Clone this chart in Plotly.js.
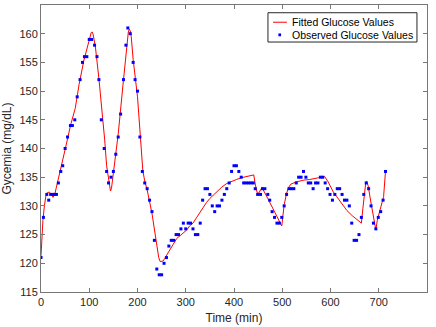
<!DOCTYPE html>
<html>
<head>
<meta charset="utf-8">
<script src="https://cdn.plot.ly/plotly-3.0.1.min.js"></script>
<style>
  html, body { margin: 0; padding: 0; background: #fff; }
  #graph { width: 436px; height: 327px; }
</style>
</head>
<body>
<div id="graph"></div>
<script>
// observed glucose readings (time in min, value in mg/dL)
const obsTime = [0, 5, 12, 16, 20, 24, 28, 32, 36, 41, 45, 50, 55, 61, 65, 70, 75, 81, 86, 90,
  95, 100, 105, 111, 116, 120, 125, 131, 136, 140, 145, 150, 155, 160, 165, 171, 176, 180, 185, 191,
  195, 200, 205, 210, 215, 220, 225, 230, 235, 240, 245, 250, 255, 260, 265, 270, 275, 280, 285, 290,
  295, 300, 305, 310, 315, 320, 325, 330, 335, 340, 345, 350, 355, 360, 365, 370, 375, 380, 385, 390,
  395, 400, 405, 410, 415, 420, 425, 430, 435, 440, 444, 449, 455, 459, 464, 470, 474, 479, 484, 489,
  494, 499, 504, 509, 514, 519, 524, 529, 534, 539, 544, 549, 554, 559, 564, 569, 574, 579, 584, 589,
  594, 599, 604, 609, 614, 619, 624, 629, 634, 639, 644, 649, 654, 659, 664, 669, 674, 679, 684, 689,
  694, 699, 704, 709, 714];
const obsValue = [121, 128, 132, 131, 132, 132, 132, 132, 134, 136, 137, 140, 142, 144, 144, 145, 149, 152, 155, 156,
  156, 159, 159, 158, 156, 152, 145, 140, 136, 134, 135, 136, 139, 142, 146, 152, 158, 161, 160, 155,
  152, 150, 142, 136, 134, 133, 131, 129, 124, 119, 118, 118, 120, 121, 123, 124, 124, 125, 125, 126,
  127, 126, 127, 127, 126, 125, 125, 127, 131, 133, 133, 132, 130, 129, 130, 130, 131, 132, 133, 134,
  136, 137, 137, 136, 135, 134, 134, 134, 134, 134, 133, 132, 132, 133, 133, 132, 131, 129, 128, 127,
  127, 128, 130, 132, 133, 133, 133, 134, 135, 135, 136, 135, 134, 134, 133, 134, 134, 135, 135, 134,
  133, 132, 131, 132, 133, 133, 132, 131, 131, 130, 127, 124, 124, 125, 128, 132, 134, 133, 130, 127,
  126, 128, 129, 131, 136];

// fitted model curve
const fitTime = [0, 2, 4, 7, 10, 13, 17, 20, 25, 29, 34, 41, 51, 62, 71, 79, 89, 100, 104, 106,
  108, 110, 113, 120, 127, 132, 136, 140, 144, 146, 150, 155, 160, 171, 178, 181, 183, 185, 187, 191,
  200, 205, 211, 215, 220, 230, 239, 244, 247, 253, 256, 260, 267, 274, 281, 288, 295, 302, 308, 315,
  322, 329, 336, 343, 350, 357, 364, 375, 385, 395, 405, 415, 426, 441, 444, 448, 451, 454, 458, 470,
  480, 490, 499, 501, 504, 509, 513, 518, 530, 545, 557, 575, 588, 595, 601, 606, 613, 623, 634, 645,
  655, 664, 667, 670, 673, 675, 678, 684, 689, 694, 697, 700, 705, 710, 714];
const fitValue = [121.3, 125, 127.5, 130, 131.7, 132.3, 132.4, 132.2, 131.5, 132.2, 133.9, 136.5, 140.2, 144.3, 147, 151.2, 155.4, 158.9, 160.2, 160.3,
  159.9, 159, 157.5, 152.2, 146.5, 141.5, 137, 134.3, 132.6, 133, 135.5, 139, 142.5, 152, 158.5, 160.3, 160.8, 160.5, 159.5, 155.5,
  149, 142.5, 136.2, 134.3, 132.8, 128.7, 124.1, 121, 120.3, 120.4, 120.8, 121.4, 122.5, 123.3, 124.3, 124.8, 125.4, 125.8, 126.5, 127,
  127.9, 128.8, 129.8, 130.6, 131.3, 131.9, 132.5, 133.3, 133.9, 134.3, 134.6, 134.9, 135.1, 135.4, 133.8, 132.3, 132.2, 132.7, 133.2, 131.3,
  129.6, 128, 126.5, 128, 130.2, 132.2, 133.2, 133.8, 134.2, 134.5, 134.6, 134.9, 135.1, 134.2, 133.1, 132.4, 131.6, 130.4, 129.2, 128.3,
  127.6, 127, 129.5, 132, 134, 134.3, 133.5, 130.5, 127.8, 125.8, 127.5, 128.5, 129.8, 131.6, 136];

const legendNames = ['Fitted Glucose Values', 'Observed Glucose Values'];

const fontFamily = 'Liberation Sans, Arial, sans-serif';
const axisFont = { family: fontFamily, size: 11, color: '#262626' };

const traces = [
  {
    x: fitTime,
    y: fitValue,
    mode: 'lines',
    type: 'scatter',
    name: legendNames[0],
    line: { color: '#ff0000', width: 1 }
  },
  {
    x: obsTime,
    y: obsValue,
    mode: 'markers',
    type: 'scatter',
    name: legendNames[1],
    marker: { color: '#0000ff', size: 3, symbol: 'square' }
  }
];

// MATLAB-style compact legend box (paper coords)
const legShapes = [
  { type: 'rect', xref: 'paper', yref: 'paper', x0: 0.588, x1: 0.974, y0: 0.871, y1: 0.973,
    line: { color: '#262626', width: 1 }, fillcolor: '#fff', layer: 'above' },
  { type: 'line', xref: 'paper', yref: 'paper', x0: 0.601, x1: 0.637, y0: 0.94, y1: 0.94,
    line: { color: '#ff0000', width: 1 }, layer: 'above' },
  { type: 'rect', xref: 'paper', yref: 'paper', x0: 0.615, x1: 0.622, y0: 0.891, y1: 0.901,
    line: { width: 0 }, fillcolor: '#0000ff', layer: 'above' }
];
const legText = legendNames.map((n, i) => ({
  text: n, xref: 'paper', yref: 'paper', x: 0.646, y: i === 0 ? 0.94 : 0.896,
  xanchor: 'left', yanchor: 'middle', showarrow: false,
  font: { family: fontFamily, size: 10.5, color: '#000' }
}));

const layout = {
  width: 436,
  height: 327,
  margin: { l: 41, r: 9, t: 5, b: 35 },
  paper_bgcolor: '#fff',
  plot_bgcolor: '#fff',
  font: axisFont,
  showlegend: false,
  shapes: legShapes,
  annotations: legText,
  xaxis: {
    range: [0, 800], dtick: 100, tick0: 0,
    ticks: 'inside', ticklen: 4, tickcolor: '#777',
    showline: true, linecolor: '#777', linewidth: 1, mirror: 'allticks',
    showgrid: false, zeroline: false,
    tickfont: axisFont,
    title: { text: 'Time (min)', font: { family: fontFamily, size: 12, color: '#262626' }, standoff: 6 }
  },
  yaxis: {
    range: [115, 165], dtick: 5, tick0: 115,
    ticks: 'inside', ticklen: 4, tickcolor: '#777',
    showline: true, linecolor: '#777', linewidth: 1, mirror: 'allticks',
    showgrid: false, zeroline: false,
    tickfont: axisFont,
    title: { text: 'Gycemia (mg/dL)', font: { family: fontFamily, size: 12, color: '#262626' }, standoff: 6 }
  }
};

Plotly.newPlot('graph', traces, layout, { displayModeBar: false, staticPlot: true });
</script>
</body>
</html>
